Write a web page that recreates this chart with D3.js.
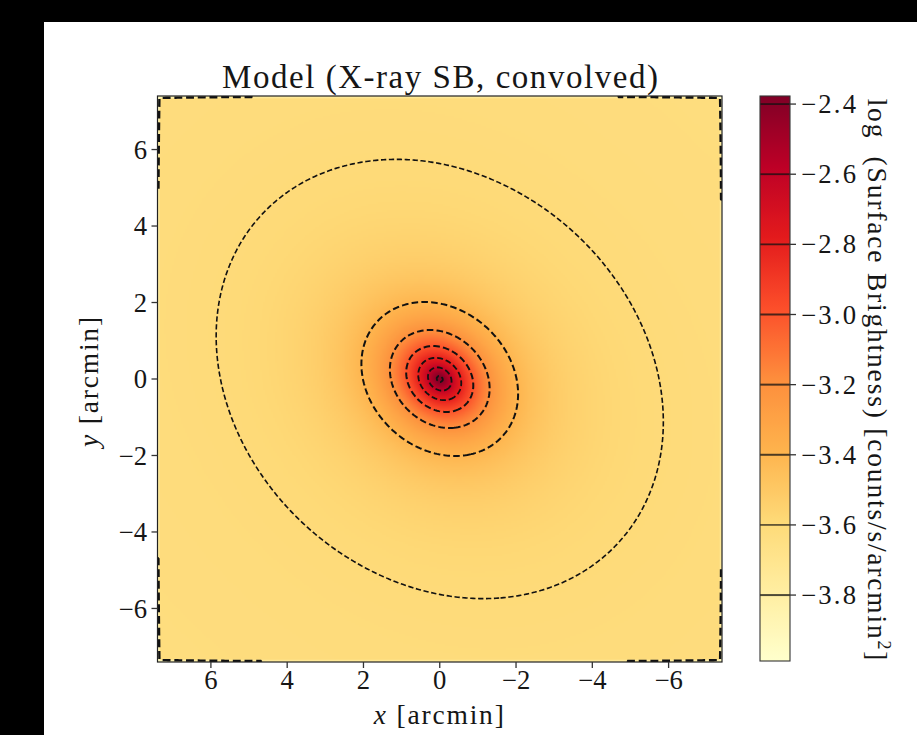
<!DOCTYPE html>
<html>
<head>
<meta charset="utf-8">
<script src="https://cdn.jsdelivr.net/npm/d3@7"></script>
<style>
  html, body { margin: 0; padding: 0; background: #000; }
  svg { display: block; }
  text { font-family: "Liberation Serif", "Times New Roman", serif; fill: #161616; }
</style>
</head>
<body>
<svg id="chart" width="917" height="735"></svg>
<script>
// ---- axis ticks (arcmin) ----
const xTicks = [6, 4, 2, 0, -2, -4, -6];
const yTicks = [6, 4, 2, 0, -2, -4, -6];

// ---- contour levels and colorbar ticks: log10 surface brightness ----
const levels = [-3.8, -3.6, -3.4, -3.2, -3.0, -2.8, -2.6, -2.4];
const levelWidths = [2.4, 1.6, 2.0, 2.0, 2.0, 1.8, 1.8, 1.8];
const cbarTicks = [-3.8, -3.6, -3.4, -3.2, -3.0, -2.8, -2.6, -2.4];
// colour scale limits (log10 surface brightness)
const colorLimits = [-3.988, -2.377];

// ---- model image: field of view and pixel size (arcmin) ----
const halfWidth = 7.4;
const pixelSize = 0.05;

// ---- surface brightness model (counts/s/arcmin^2) ----
// [amplitude, core radius (arcmin), slope p] of (1 + r^2/rc^2)^-p
const broadComponent = [1.97e-3, 0.7, 1.15];
const coreComponent = [2.04e-3, 0.25, 1.25];
const background = [2.351e-4];
// [position angle (deg, from +x towards +y), axis ratio]
const ellipseShape = [42, 0.82];
// flux kept by border pixels after convolution:
// [fraction kept, extra loss towards a corner, loss scale (arcmin)]
const edgeLoss = [0.688, 0.384, 1.2];

const W = 917, H = 735;
const plot = { left: 157.5, right: 722, top: 96, bottom: 662 };
const cbar = { left: 760, right: 790, top: 96, bottom: 661 };

const svg = d3.select("#chart");

// page backdrop
svg.append("rect").attr("width", W).attr("height", H).attr("fill", "#000");
svg.append("rect").attr("x", 44).attr("y", 22).attr("width", W - 44).attr("height", H - 22).attr("fill", "#fff");

const x = d3.scaleLinear().domain([halfWidth, -halfWidth]).range([plot.left, plot.right]);
const y = d3.scaleLinear().domain([-halfWidth, halfWidth]).range([plot.bottom, plot.top]);

// elliptical double-beta surface brightness plus flat background
function surfaceBrightness(px, py) {
  const t = ellipseShape[0] * Math.PI / 180, q = ellipseShape[1];
  const u = px * Math.cos(t) + py * Math.sin(t);
  const v = -px * Math.sin(t) + py * Math.cos(t);
  const r2 = u * u * q + v * v / q;
  const comp = c => c[0] * Math.pow(1 + r2 / (c[1] * c[1]), -c[2]);
  return comp(broadComponent) + comp(coreComponent) + background[0];
}

// pixel grid (column 0 at +x, row 0 at +y)
const N = Math.round(2 * halfWidth / pixelSize);
// border pixels lose flux, more of it close to a corner
function borderGain(isBorder, alongDist) {
  if (!isBorder) return 1;
  return edgeLoss[0] * (1 - edgeLoss[1] * Math.exp(-alongDist / edgeLoss[2]));
}
const values = new Float64Array(N * N);
for (let j = 0; j < N; j++) {
  const py = halfWidth - (j + 0.5) * pixelSize;
  const dy = halfWidth - Math.abs(py);
  for (let i = 0; i < N; i++) {
    const px = halfWidth - (i + 0.5) * pixelSize;
    const dx = halfWidth - Math.abs(px);
    const g = borderGain(j === 0 || j === N - 1, dx) * borderGain(i === 0 || i === N - 1, dy);
    values[j * N + i] = Math.log10(surfaceBrightness(px, py) * g);
  }
}
const [vmin, vmax] = colorLimits;

// YlOrRd, linear between the nine ColorBrewer anchors
const ylorrd = d3.schemeYlOrRd[9];
const cmapScale = d3.scaleLinear().domain(d3.range(9).map(k => k / 8)).range(ylorrd).interpolate(d3.interpolateRgb).clamp(true);
const color = v => cmapScale((v - vmin) / (vmax - vmin));

// raster image
const canvas = document.createElement("canvas");
canvas.width = N; canvas.height = N;
const ctx = canvas.getContext("2d");
const img = ctx.createImageData(N, N);
for (let k = 0; k < N * N; k++) {
  const c = d3.rgb(color(values[k]));
  img.data[4 * k] = c.r; img.data[4 * k + 1] = c.g; img.data[4 * k + 2] = c.b; img.data[4 * k + 3] = 255;
}
ctx.putImageData(img, 0, 0);

const defs = svg.append("defs");
defs.append("clipPath").attr("id", "plotClip").append("rect")
  .attr("x", plot.left).attr("y", plot.top)
  .attr("width", plot.right - plot.left).attr("height", plot.bottom - plot.top);

svg.append("image")
  .attr("href", canvas.toDataURL())
  .attr("x", x(halfWidth)).attr("y", y(halfWidth))
  .attr("width", x(-halfWidth) - x(halfWidth)).attr("height", y(-halfWidth) - y(halfWidth))
  .attr("preserveAspectRatio", "none");

// contours, with the segments that only run along the grid border removed
const gridX = gx => x(halfWidth - gx * pixelSize);
const gridY = gy => y(halfWidth - gy * pixelSize);
const onBorder = (a, b) => (a[0] === 0 && b[0] === 0) || (a[0] === N && b[0] === N) ||
                           (a[1] === 0 && b[1] === 0) || (a[1] === N && b[1] === N);
const contourGen = d3.contours().size([N, N]).thresholds(levels);
const line = d3.line().x(p => gridX(p[0])).y(p => gridY(p[1]));
const contourLayer = svg.append("g").attr("clip-path", "url(#plotClip)");

contourGen(values).forEach(c => {
  const runs = [];
  c.coordinates.forEach(poly => poly.forEach(ring => {
    const pieces = [];
    let cur = [], curStart = 0, touched = false;
    for (let k = 0; k < ring.length - 1; k++) {
      const a = ring[k], b = ring[k + 1];
      if (onBorder(a, b)) {
        touched = true;
        if (cur.length > 1) pieces.push({ pts: cur, start: curStart, end: k });
        cur = [];
      } else {
        if (!cur.length) { cur.push(a); curStart = k; }
        cur.push(b);
      }
    }
    if (cur.length > 1) pieces.push({ pts: cur, start: curStart, end: ring.length - 1 });
    if (touched && pieces.length > 1 && pieces[0].start === 0 && pieces[pieces.length - 1].end === ring.length - 1) {
      const last = pieces.pop();
      pieces[0].pts = last.pts.concat(pieces[0].pts.slice(1));
    }
    pieces.forEach(p => runs.push(p.pts));
  }));
  const w = levelWidths[levels.indexOf(c.value)];
  contourLayer.selectAll(null).data(runs).join("path")
    .attr("d", line)
    .attr("fill", "none")
    .attr("stroke", "#111")
    .attr("stroke-width", w)
    .attr("stroke-dasharray", (3.3 * w).toFixed(1) + "," + (1.6 * w).toFixed(1));
});

// frame
svg.append("rect")
  .attr("x", plot.left).attr("y", plot.top)
  .attr("width", plot.right - plot.left).attr("height", plot.bottom - plot.top)
  .attr("fill", "none").attr("stroke", "#222").attr("stroke-width", 1.2);

const fmt = v => (v < 0 ? "\u2212" : "") + Math.abs(v);
const fmt1 = v => (v < 0 ? "\u2212" : "") + Math.abs(v).toFixed(1);

// spread a label's letters so it spans the given width
function fitWidth(sel, target) {
  const node = sel.node();
  const natural = node.getComputedTextLength();
  const chars = node.textContent.length;
  if (chars > 1) sel.attr("letter-spacing", ((target - natural) / (chars - 1)).toFixed(2));
}

// x axis
const xAxis = svg.append("g");
xTicks.forEach(t => {
  xAxis.append("line").attr("x1", x(t)).attr("x2", x(t)).attr("y1", plot.bottom).attr("y2", plot.bottom + 6)
    .attr("stroke", "#333").attr("stroke-width", 1.3);
  xAxis.append("text").attr("x", x(t)).attr("y", 689).attr("text-anchor", "middle")
    .attr("font-size", 26.7).text(fmt(t));
});
const xl = svg.append("text").attr("x", (plot.left + plot.right) / 2).attr("y", 724)
  .attr("text-anchor", "middle").attr("font-size", 27.5);
xl.append("tspan").attr("font-style", "italic").text("x");
xl.append("tspan").text(" [arcmin]");
fitWidth(xl, 130);

// y axis
const yAxis = svg.append("g");
yTicks.forEach(t => {
  yAxis.append("line").attr("x1", plot.left - 6).attr("x2", plot.left).attr("y1", y(t)).attr("y2", y(t))
    .attr("stroke", "#333").attr("stroke-width", 1.3);
  yAxis.append("text").attr("x", 147).attr("y", y(t)).attr("dy", "0.34em").attr("text-anchor", "end")
    .attr("font-size", 26.7).text(fmt(t));
});
const yl = svg.append("text").attr("transform", `translate(98,${(plot.top + plot.bottom) / 2 + 2}) rotate(-90)`)
  .attr("text-anchor", "middle").attr("font-size", 27.5);
yl.append("tspan").attr("font-style", "italic").text("y");
yl.append("tspan").text(" [arcmin]");
fitWidth(yl, 130);

// title
const title = svg.append("text").attr("x", (plot.left + plot.right) / 2 + 1).attr("y", 88)
  .attr("text-anchor", "middle").attr("font-size", 33)
  .text("Model (X-ray SB, convolved)");
fitWidth(title, 436);

// colorbar
const cy = d3.scaleLinear().domain([vmin, vmax]).range([cbar.bottom, cbar.top]);
const grad = defs.append("linearGradient").attr("id", "cbarGrad")
  .attr("x1", 0).attr("y1", 1).attr("x2", 0).attr("y2", 0);
d3.range(0, 1.0001, 1 / 64).forEach(f => {
  grad.append("stop").attr("offset", f).attr("stop-color", cmapScale(f));
});
svg.append("rect").attr("x", cbar.left).attr("y", cbar.top)
  .attr("width", cbar.right - cbar.left).attr("height", cbar.bottom - cbar.top)
  .attr("fill", "url(#cbarGrad)");
levels.forEach((lv, k) => {
  svg.append("line").attr("x1", cbar.left).attr("x2", cbar.right)
    .attr("y1", cy(lv)).attr("y2", cy(lv))
    .attr("stroke", "#111").attr("stroke-opacity", 0.75).attr("stroke-width", Math.min(levelWidths[k], 2));
});
svg.append("rect").attr("x", cbar.left).attr("y", cbar.top)
  .attr("width", cbar.right - cbar.left).attr("height", cbar.bottom - cbar.top)
  .attr("fill", "none").attr("stroke", "#333").attr("stroke-width", 1.1);
cbarTicks.forEach(t => {
  svg.append("line").attr("x1", cbar.right).attr("x2", cbar.right + 6).attr("y1", cy(t)).attr("y2", cy(t))
    .attr("stroke", "#333").attr("stroke-width", 1.3);
  const tl = svg.append("text").attr("x", 801).attr("y", cy(t)).attr("dy", "0.34em")
    .attr("font-size", 26.7).text(fmt1(t));
  fitWidth(tl, 55);
});
const cl = svg.append("text").attr("transform", `translate(868,${(cbar.top + cbar.bottom) / 2 + 2}) rotate(90)`)
  .attr("text-anchor", "middle").attr("font-size", 27.5).style("white-space", "pre");
cl.append("tspan").text("log  (Surface Brightness) [counts/s/arcmin");
cl.append("tspan").attr("font-size", 18).attr("dy", -10).text("2");
cl.append("tspan").attr("dy", 10).text("]");
fitWidth(cl, 562);
</script>
</body>
</html>
